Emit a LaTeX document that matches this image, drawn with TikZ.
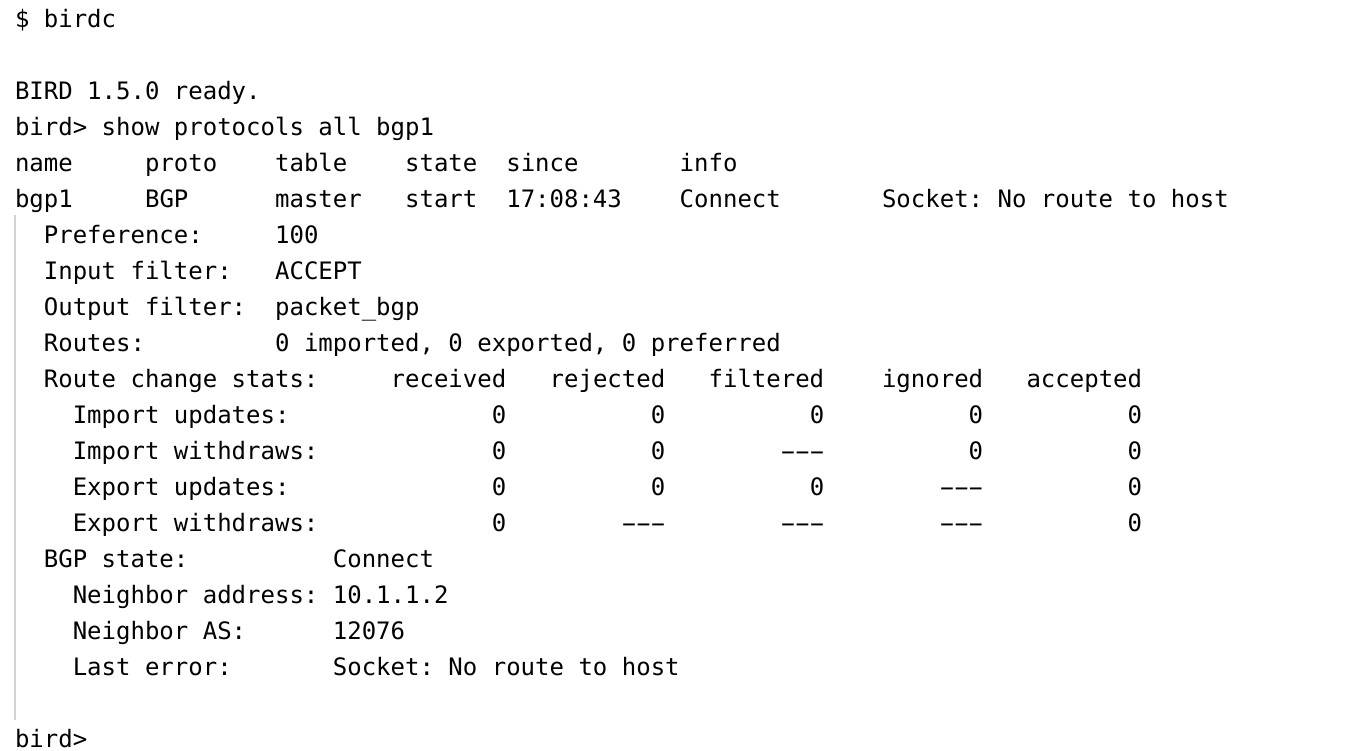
\documentclass[tikz,border=0pt]{standalone}
\usepackage{fontspec}
\usepackage{xcolor}
\usepackage{graphicx}
\newfontfamily\termfont{DejaVu Sans Mono}
\definecolor{bargray}{HTML}{D2D2D2}
\frenchspacing
\tikzset{
  term/.style={anchor=base west, inner sep=0pt, outer sep=0pt,
    font=\termfont\fontsize{24}{36}\selectfont, text=black}
}
% character width and line height, in px
\def\cw{14.45}
\def\lh{36}
% wide terminal hyphen, one cell each
\newcommand\wdash{\makebox[14.45pt]{\scalebox{1.9}[1]{-}}}
\newcommand\tripdash{\wdash\wdash\wdash}

\begin{document}
\begin{tikzpicture}[x=1pt, y=1pt]
    \useasboundingbox[fill=white] (0,0) rectangle (1348,-750);

    % Left quote bar
    \draw[bargray, line width=2pt] (15,-215) -- (15,-720);

    % Prompt and banner
    \node[term] (cmd) at ({15+\cw*0},{-27.5-\lh*0}) {\$ birdc};
    \node[term] (banner) at ({15+\cw*0},{-27.5-\lh*2}) {BIRD 1.5.0 ready.};
    \node[term] (query) at ({15+\cw*0},{-27.5-\lh*3}) {bird> show protocols all bgp1};

    % Header row
    \node[term] (h-name) at ({15+\cw*0},{-27.5-\lh*4}) {name};
    \node[term] (h-proto) at ({15+\cw*9},{-27.5-\lh*4}) {proto};
    \node[term] (h-table) at ({15+\cw*18},{-27.5-\lh*4}) {table};
    \node[term] (h-state) at ({15+\cw*27},{-27.5-\lh*4}) {state};
    \node[term] (h-since) at ({15+\cw*34},{-27.5-\lh*4}) {since};
    \node[term] (h-info) at ({15+\cw*46},{-27.5-\lh*4}) {info};

    % Protocol row
    \node[term] (p-name) at ({15+\cw*0},{-27.5-\lh*5}) {bgp1};
    \node[term] (p-proto) at ({15+\cw*9},{-27.5-\lh*5}) {BGP};
    \node[term] (p-table) at ({15+\cw*18},{-27.5-\lh*5}) {master};
    \node[term] (p-state) at ({15+\cw*27},{-27.5-\lh*5}) {start};
    \node[term] (p-since) at ({15+\cw*34},{-27.5-\lh*5}) {17:08:43};
    \node[term] (p-info) at ({15+\cw*46},{-27.5-\lh*5}) {Connect};
    \node[term] (p-msg) at ({15+\cw*60},{-27.5-\lh*5}) {Socket: No route to host};

    % Settings
    \node[term] (pref) at ({15+\cw*2},{-27.5-\lh*6}) {Preference:};
    \node[term] (pref-v) at ({15+\cw*18},{-27.5-\lh*6}) {100};
    \node[term] (infil) at ({15+\cw*2},{-27.5-\lh*7}) {Input filter:};
    \node[term] (infil-v) at ({15+\cw*18},{-27.5-\lh*7}) {ACCEPT};
    \node[term] (outfil) at ({15+\cw*2},{-27.5-\lh*8}) {Output filter:};
    \node[term] (outfil-v) at ({15+\cw*18},{-27.5-\lh*8}) {packet\_bgp};
    \node[term] (routes) at ({15+\cw*2},{-27.5-\lh*9}) {Routes:};
    \node[term] (routes-v) at ({15+\cw*18},{-27.5-\lh*9}) {0 imported, 0 exported, 0 preferred};

    % Route change stats table
    \node[term] (stats) at ({15+\cw*2},{-27.5-\lh*10}) {Route change stats:};
    \node[term] (s-rcv) at ({15+\cw*26},{-27.5-\lh*10}) {received};
    \node[term] (s-rej) at ({15+\cw*37},{-27.5-\lh*10}) {rejected};
    \node[term] (s-fil) at ({15+\cw*48},{-27.5-\lh*10}) {filtered};
    \node[term] (s-ign) at ({15+\cw*60},{-27.5-\lh*10}) {ignored};
    \node[term] (s-acc) at ({15+\cw*70},{-27.5-\lh*10}) {accepted};

    \node[term] (iu) at ({15+\cw*4},{-27.5-\lh*11}) {Import updates:};
    \node[term] (iu-rcv) at ({15+\cw*33},{-27.5-\lh*11}) {0};
    \node[term] (iu-rej) at ({15+\cw*44},{-27.5-\lh*11}) {0};
    \node[term] (iu-fil) at ({15+\cw*55},{-27.5-\lh*11}) {0};
    \node[term] (iu-ign) at ({15+\cw*66},{-27.5-\lh*11}) {0};
    \node[term] (iu-acc) at ({15+\cw*77},{-27.5-\lh*11}) {0};

    \node[term] (iw) at ({15+\cw*4},{-27.5-\lh*12}) {Import withdraws:};
    \node[term] (iw-rcv) at ({15+\cw*33},{-27.5-\lh*12}) {0};
    \node[term] (iw-rej) at ({15+\cw*44},{-27.5-\lh*12}) {0};
    \node[term] (iw-fil) at ({15+\cw*53},{-27.5-\lh*12}) {\tripdash};
    \node[term] (iw-ign) at ({15+\cw*66},{-27.5-\lh*12}) {0};
    \node[term] (iw-acc) at ({15+\cw*77},{-27.5-\lh*12}) {0};

    \node[term] (eu) at ({15+\cw*4},{-27.5-\lh*13}) {Export updates:};
    \node[term] (eu-rcv) at ({15+\cw*33},{-27.5-\lh*13}) {0};
    \node[term] (eu-rej) at ({15+\cw*44},{-27.5-\lh*13}) {0};
    \node[term] (eu-fil) at ({15+\cw*55},{-27.5-\lh*13}) {0};
    \node[term] (eu-ign) at ({15+\cw*64},{-27.5-\lh*13}) {\tripdash};
    \node[term] (eu-acc) at ({15+\cw*77},{-27.5-\lh*13}) {0};

    \node[term] (ew) at ({15+\cw*4},{-27.5-\lh*14}) {Export withdraws:};
    \node[term] (ew-rcv) at ({15+\cw*33},{-27.5-\lh*14}) {0};
    \node[term] (ew-rej) at ({15+\cw*42},{-27.5-\lh*14}) {\tripdash};
    \node[term] (ew-fil) at ({15+\cw*53},{-27.5-\lh*14}) {\tripdash};
    \node[term] (ew-ign) at ({15+\cw*64},{-27.5-\lh*14}) {\tripdash};
    \node[term] (ew-acc) at ({15+\cw*77},{-27.5-\lh*14}) {0};

    % BGP state
    \node[term] (bgp) at ({15+\cw*2},{-27.5-\lh*15}) {BGP state:};
    \node[term] (bgp-v) at ({15+\cw*22},{-27.5-\lh*15}) {Connect};
    \node[term] (nbr) at ({15+\cw*4},{-27.5-\lh*16}) {Neighbor address:};
    \node[term] (nbr-v) at ({15+\cw*22},{-27.5-\lh*16}) {10.1.1.2};
    \node[term] (nas) at ({15+\cw*4},{-27.5-\lh*17}) {Neighbor AS:};
    \node[term] (nas-v) at ({15+\cw*22},{-27.5-\lh*17}) {12076};
    \node[term] (err) at ({15+\cw*4},{-27.5-\lh*18}) {Last error:};
    \node[term] (err-v) at ({15+\cw*22},{-27.5-\lh*18}) {Socket: No route to host};

    % Final prompt
    \node[term] (prompt) at ({15+\cw*0},{-27.5-\lh*20}) {bird>};
\end{tikzpicture}
\end{document}
